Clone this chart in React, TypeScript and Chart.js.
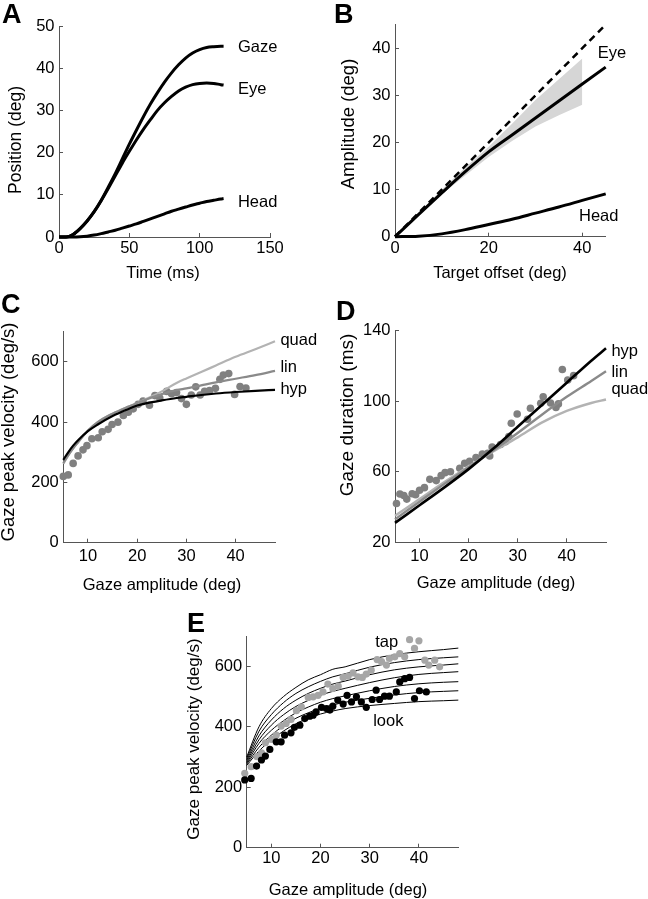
import React, { useEffect, useRef } from "react";
import { Chart, registerables } from "chart.js";
Chart.register(...registerables);

const FONT = '"Liberation Sans", Arial, Helvetica, sans-serif';
const FS = 16.5;

// ---------- Panel A: position vs time ----------
const aTime = [0, 5, 10, 15, 20, 25, 30, 35, 40, 45, 50, 55, 60, 65, 70, 75, 80, 85, 90, 95, 100, 105, 110, 115, 117];
const aGaze = [0, 0, 0.6, 2, 3.8, 6, 8.7, 11.8, 15, 18.5, 22, 25.3, 28.5, 31.5, 34.2, 36.7, 38.9, 40.8, 42.4, 43.6, 44.4, 44.9, 45.1, 45.2, 45.2];
const aEye = [0, 0, 0.6, 2, 3.8, 6, 8.6, 11.5, 14.5, 17.5, 20.3, 23, 25.5, 27.8, 30, 31.8, 33.3, 34.6, 35.5, 36.1, 36.4, 36.5, 36.4, 36.1, 36];
const aHead = [0, 0, 0, 0.05, 0.2, 0.45, 0.8, 1.2, 1.6, 2.1, 2.6, 3.1, 3.7, 4.3, 4.9, 5.5, 6.1, 6.6, 7.1, 7.6, 8, 8.4, 8.7, 9, 9.1];
const aXTicks = [0, 50, 100, 150];
const aYTicks = [0, 10, 20, 30, 40, 50];

// ---------- Panel B: amplitude vs target offset ----------
const bUnityX = [0, 45];
const bUnityY = [0, 45];
const bOffset = [0, 5, 10, 15, 20, 25, 30, 35, 40, 45];
const bEye = [0, 4.7, 9.3, 13.8, 18, 21.6, 25.2, 28.8, 32.4, 36];
const bHead = [0, 0.1, 0.6, 1.5, 2.6, 3.7, 5, 6.3, 7.7, 9.1];
const bBandX = [0, 5, 10, 15, 20, 25, 30, 35, 40];
const bBandHi = [0, 5, 10, 14.7, 19.1, 24, 29, 33.4, 37.8];
const bBandLo = [0, 4.6, 9, 13, 16.9, 20.3, 23.4, 25.8, 28];
const bXTicks = [0, 20, 40];
const bYTicks = [0, 10, 20, 30, 40];

// ---------- Panel C: peak velocity fits ----------
const cX = [5, 6, 7, 8, 10, 12, 15, 18, 20, 22, 25, 28, 30, 33, 36, 40, 44, 48];
const cHyp = [275, 300, 322, 340, 370, 392, 420, 442, 455, 463, 472, 480, 484, 490, 495, 500, 504, 507];
const cLin = [264, 290, 313, 333, 372, 400, 428, 450, 463, 476, 493, 506, 512, 522, 532, 544, 556, 570];
const cQuad = [262, 290, 313, 333, 372, 400, 428, 450, 463, 478, 502, 530, 545, 566, 588, 617, 642, 668];
const cDotX = [5, 6, 7, 8, 9, 9.8, 10.8, 12.1, 12.9, 14.1, 14.9, 16.1, 17.2, 18.2, 19.2, 20.2, 21.2, 22.5, 23.6, 24.6, 26, 27, 28, 29, 30, 31, 31.9, 32.8, 33.7, 34.7, 35.9, 36.8, 37.5, 38.6, 39.8, 40.9, 42.1];
const cDotY = [220, 225, 263, 288, 308, 322, 345, 348, 368, 376, 392, 400, 422, 433, 444, 459, 470, 456, 488, 480, 502, 494, 498, 478, 459, 490, 517, 490, 502, 505, 512, 542, 556, 561, 492, 518, 513];
const cXTicks = [10, 20, 30, 40];
const cYTicks = [0, 200, 400, 600];

// ---------- Panel D: duration fits ----------
const dX = [5, 10, 15, 20, 25, 30, 35, 40, 45, 48];
const dHyp = [31, 41, 51, 61.5, 73, 85.5, 98, 110.5, 123, 130];
const dLin = [33, 43, 53, 62.5, 72, 82, 92.5, 102.5, 111.5, 117];
const dQuad = [35, 44.5, 54, 63, 71.5, 79.5, 88, 94.5, 99, 101];
const dDotX = [5.3, 6, 6.8, 7.4, 8.5, 9.2, 10, 11, 12.1, 13.4, 14.4, 15.2, 16.3, 18.2, 19.2, 20.2, 21.5, 22.8, 23.9, 24.3, 24.8, 26.5, 27.5, 28.2, 28.7, 29.9, 32, 32.6, 34.7, 35.2, 36.7, 37.8, 38.3, 39.1, 40.2, 41.4];
const dDotY = [42, 47.4, 46.5, 44.5, 47.5, 47, 49.5, 51, 55.7, 55, 57.8, 59.5, 60, 62, 64.8, 66, 68, 70, 70.5, 69, 74, 75.5, 77, 80, 87.5, 92.8, 89.8, 96, 98.8, 102.5, 99, 96.5, 98.5, 118, 112, 114.5];
const dXTicks = [10, 20, 30, 40];
const dYTicks = [20, 60, 100, 140];

// ---------- Panel E: tap vs look ----------
const eX = [5, 7.5, 10, 12.5, 15, 17.5, 20, 22.5, 25, 30, 35, 40, 45, 48];
const eL1 = [300, 400, 460, 500, 530, 555, 572, 590, 598, 622, 638, 648, 655, 660];
const eL2 = [295, 385, 440, 480, 510, 532, 550, 565, 575, 597, 612, 622, 628, 631];
const eL3 = [290, 370, 422, 460, 488, 510, 527, 541, 551, 572, 588, 598, 604, 608];
const eL4 = [285, 357, 405, 440, 467, 487, 504, 517, 527, 546, 562, 573, 579, 582];
const eL5 = [280, 345, 388, 420, 446, 465, 481, 493, 502, 519, 533, 542, 547, 549];
const eL6 = [276, 332, 372, 403, 428, 446, 461, 472, 481, 494, 505, 513, 517, 519];
const eL7 = [272, 320, 356, 386, 410, 428, 442, 452, 460, 470, 477, 483, 486, 488];
const eTapX = [4.6, 5.9, 7.1, 8, 8.8, 10, 11, 12, 13, 14, 15.1, 16.1, 17.5, 18.5, 19.5, 20.5, 21.5, 22.5, 23.6, 24.6, 25.6, 26.6, 27.6, 28.5, 29.3, 30.3, 31.5, 32.4, 33.4, 34, 35.1, 36.1, 37.1, 38.1, 39.1, 40, 41.2, 42, 43.2, 44.2];
const eTapY = [246, 268, 301, 314, 347, 358, 372, 402, 411, 424, 453, 466, 497, 499, 504, 515, 541, 526, 534, 563, 567, 578, 565, 563, 574, 587, 622, 615, 604, 626, 631, 642, 631, 688, 659, 684, 620, 604, 620, 598];
const eLookX = [4.6, 5.9, 7, 8, 8.8, 9.7, 11, 12, 12.7, 14, 14.7, 15.8, 16.8, 17.8, 18.5, 19.1, 20.2, 21.2, 21.9, 22.5, 23.5, 24.6, 25.4, 26.3, 27.3, 28.3, 29.3, 30.5, 31.3, 32, 33, 34, 35.4, 36.1, 37.1, 38.1, 39.1, 40.1, 41.5];
const eLookY = [224, 229, 270, 290, 303, 325, 350, 350, 372, 380, 398, 405, 427, 435, 438, 449, 464, 460, 455, 468, 488, 475, 504, 482, 499, 482, 464, 490, 521, 490, 501, 501, 515, 548, 559, 563, 493, 519, 515];
const eXTicks = [10, 20, 30, 40];
const eYTicks = [0, 200, 400, 600];

const pts = (xs: number[], ys: number[]) => xs.map((x, i) => ({ x, y: ys[i] }));

const AXIS = "#555";
const YW = 40;
const XH = 30;

type Box = { cx: number; cy: number; cw: number; ch: number; l: number; t: number; r: number; b: number };

const textPlugin = {
  id: "panelText",
  afterDraw(chart: any, _args: any, o: any) {
    const ctx = chart.ctx as CanvasRenderingContext2D;
    const ox = o.ox, oy = o.oy;
    ctx.save();
    ctx.fillStyle = "#000";
    ctx.font = `bold 27px ${FONT}`;
    ctx.textAlign = "left";
    ctx.textBaseline = "alphabetic";
    ctx.fillText(o.letter, o.letterPos[0] - ox, o.letterPos[1] - oy);
    ctx.font = `${FS}px ${FONT}`;
    ctx.textAlign = "center";
    ctx.textBaseline = "middle";
    ctx.fillText(o.xTitle, o.xTitlePos[0] - ox, o.xTitlePos[1] - oy);
    ctx.save();
    ctx.font = `${o.yTitleSize}px ${FONT}`;
    ctx.translate(o.yTitlePos[0] - ox, o.yTitlePos[1] - oy);
    ctx.rotate(-Math.PI / 2);
    ctx.fillText(o.yTitle, 0, 0);
    ctx.restore();
    ctx.textAlign = "left";
    for (const lb of o.labels) {
      const px = chart.scales.x.getPixelForValue(lb.x);
      const py = chart.scales.y.getPixelForValue(lb.y);
      ctx.fillText(lb.text, px, py);
    }
    ctx.restore();
  },
};

function axisOpts(min: number, max: number, ticks: number[], horizontal: boolean, pad: number) {
  return {
    type: "linear",
    min,
    max,
    afterFit: (s: any) => {
      if (horizontal) s.height = XH;
      else s.width = YW;
    },
    afterBuildTicks: (s: any) => {
      s.ticks = ticks.map((v) => ({ value: v }));
    },
    ticks: { color: "#000", font: { family: FONT, size: FS }, padding: pad, maxRotation: 0, autoSkip: false },
    grid: { display: true, drawOnChartArea: false, drawTicks: true, tickLength: -4, color: AXIS, lineWidth: 1 },
    border: { display: true, color: AXIS, width: 1 },
    title: { display: false },
  };
}

function makeOptions(box: Box, xr: [number, number, number[], number], yr: [number, number, number[]], text: any) {
  return {
    responsive: false,
    maintainAspectRatio: false,
    animation: false,
    events: [],
    layout: {
      padding: {
        left: box.l - box.cx - YW,
        top: box.t - box.cy,
        right: box.cx + box.cw - box.r,
        bottom: box.cy + box.ch - box.b - XH,
      },
    },
    plugins: { legend: { display: false }, tooltip: { enabled: false }, panelText: { ...text, ox: box.cx, oy: box.cy } },
    scales: {
      x: axisOpts(xr[0], xr[1], xr[2], true, xr[3]),
      y: axisOpts(yr[0], yr[1], yr[2], false, 8.5),
    },
  };
}

const lineDs = (data: any[], color: string, width: number, order: number, extra: any = {}) => ({
  data,
  borderColor: color,
  borderWidth: width,
  pointRadius: 0,
  fill: false,
  showLine: true,
  order,
  clip: false,
  cubicInterpolationMode: "monotone",
  ...extra,
});

const dotDs = (data: any[], color: string, r: number, order: number) => ({
  data,
  showLine: false,
  pointRadius: r,
  pointBackgroundColor: color,
  pointBorderWidth: 0,
  borderColor: color,
  order,
  clip: false,
});

const boxA: Box = { cx: 0, cy: 0, cw: 320, ch: 290, l: 59, t: 26, r: 270, b: 237 };
const boxB: Box = { cx: 320, cy: 0, cw: 328, ch: 290, l: 395, t: 24.7, r: 605.7, b: 236.7 };
const boxC: Box = { cx: 0, cy: 290, cw: 320, ch: 310, l: 63.3, t: 331.7, r: 275, b: 542.7 };
const boxD: Box = { cx: 320, cy: 290, cw: 328, ch: 310, l: 395, t: 330.7, r: 606, b: 542.3 };
const boxE: Box = { cx: 180, cy: 600, cw: 330, ch: 299, l: 246.7, t: 636, r: 458.3, b: 847.7 };

function configA() {
  return {
    type: "line",
    data: {
      datasets: [
        lineDs(pts(aTime, aGaze), "#000", 3, 1),
        lineDs(pts(aTime, aEye), "#000", 3, 1),
        lineDs(pts(aTime, aHead), "#000", 3, 1),
      ],
    },
    options: makeOptions(boxA, [0, 150, aXTicks, 5.4], [0, 50, aYTicks], {
      letter: "A", letterPos: [2, 23],
      xTitle: "Time (ms)", xTitlePos: [163, 273],
      yTitle: "Position (deg)", yTitlePos: [16, 140], yTitleSize: 17.5,
      labels: [
        { text: "Gaze", x: 127.2, y: 45 },
        { text: "Eye", x: 127.2, y: 35 },
        { text: "Head", x: 127.2, y: 8.3 },
      ],
    }),
    plugins: [textPlugin],
  };
}

function configB() {
  return {
    type: "line",
    data: {
      datasets: [
        lineDs(pts(bBandX, bBandHi), "rgba(0,0,0,0)", 0, 5, { fill: "+1", backgroundColor: "#d6d6d6", cubicInterpolationMode: "default", tension: 0 }),
        lineDs(pts(bBandX, bBandLo), "rgba(0,0,0,0)", 0, 6, { cubicInterpolationMode: "default", tension: 0 }),
        lineDs(pts(bUnityX, bUnityY), "#000", 2.5, 2, { borderDash: [7, 5], cubicInterpolationMode: "default", tension: 0 }),
        lineDs(pts(bOffset, bEye), "#000", 3, 1),
        lineDs(pts(bOffset, bHead), "#000", 3, 1),
      ],
    },
    options: makeOptions(boxB, [0, 45, bXTicks, 5.7], [0, 45, bYTicks], {
      letter: "B", letterPos: [334, 23.3],
      xTitle: "Target offset (deg)", xTitlePos: [500, 273],
      yTitle: "Amplitude (deg)", yTitlePos: [349, 124], yTitleSize: 18.5,
      labels: [
        { text: "Eye", x: 43.3, y: 39 },
        { text: "Head", x: 39.3, y: 4.2 },
      ],
    }),
    plugins: [textPlugin],
  };
}

function configC() {
  return {
    type: "line",
    data: {
      datasets: [
        dotDs(pts(cDotX, cDotY), "#808080", 3.8, 4),
        lineDs(pts(cX, cQuad), "#b3b3b3", 2.2, 3),
        lineDs(pts(cX, cLin), "#8a8a8a", 2.2, 2),
        lineDs(pts(cX, cHyp), "#000", 2.2, 1),
      ],
    },
    options: makeOptions(boxC, [5, 48, cXTicks, 8.1], [0, 700, cYTicks], {
      letter: "C", letterPos: [1, 313],
      xTitle: "Gaze amplitude (deg)", xTitlePos: [162, 585],
      yTitle: "Gaze peak velocity (deg/s)", yTitlePos: [9, 432], yTitleSize: 18.5,
      labels: [
        { text: "quad", x: 49.1, y: 670 },
        { text: "lin", x: 49.1, y: 581 },
        { text: "hyp", x: 49.1, y: 509 },
      ],
    }),
    plugins: [textPlugin],
  };
}

function configD() {
  return {
    type: "line",
    data: {
      datasets: [
        dotDs(pts(dDotX, dDotY), "#808080", 3.8, 4),
        lineDs(pts(dX, dQuad), "#b3b3b3", 2.4, 3),
        lineDs(pts(dX, dLin), "#8a8a8a", 2.4, 2),
        lineDs(pts(dX, dHyp), "#000", 2.6, 1),
      ],
    },
    options: makeOptions(boxD, [5, 48, dXTicks, 8.5], [20, 140, dYTicks], {
      letter: "D", letterPos: [336, 320],
      xTitle: "Gaze amplitude (deg)", xTitlePos: [496, 583],
      yTitle: "Gaze duration (ms)", yTitlePos: [348, 415], yTitleSize: 19,
      labels: [
        { text: "hyp", x: 49.1, y: 128 },
        { text: "lin", x: 49.1, y: 116.2 },
        { text: "quad", x: 49.1, y: 106.4 },
      ],
    }),
    plugins: [textPlugin],
  };
}

function configE() {
  const fam = [eL1, eL2, eL3, eL4, eL5, eL6, eL7].map((ys) => lineDs(pts(eX, ys), "#000", 1, 5));
  return {
    type: "line",
    data: {
      datasets: [
        ...fam,
        dotDs(pts(eTapX, eTapY), "#a6a6a6", 3.6, 2),
        dotDs(pts(eLookX, eLookY), "#000", 3.6, 1),
      ],
    },
    options: makeOptions(boxE, [5, 48, eXTicks, 4.7], [0, 700, eYTicks], {
      letter: "E", letterPos: [187, 632],
      xTitle: "Gaze amplitude (deg)", xTitlePos: [348, 890],
      yTitle: "Gaze peak velocity (deg/s)", yTitlePos: [194, 739], yTitleSize: 17,
      labels: [
        { text: "tap", x: 31.1, y: 680 },
        { text: "look", x: 30.7, y: 416 },
      ],
    }),
    plugins: [textPlugin],
  };
}

function Panel({ box, make }: { box: Box; make: () => any }) {
  const ref = useRef<HTMLCanvasElement>(null);
  useEffect(() => {
    const chart = new Chart(ref.current as HTMLCanvasElement, make());
    return () => chart.destroy();
  }, []);
  return (
    <canvas
      ref={ref}
      width={box.cw}
      height={box.ch}
      style={{ position: "absolute", left: box.cx, top: box.cy, width: box.cw, height: box.ch }}
    />
  );
}

export default function App() {
  return (
    <div style={{ position: "absolute", left: 0, top: 0, width: 648, height: 899, background: "#fff", overflow: "hidden" }}>
      <Panel box={boxA} make={configA} />
      <Panel box={boxB} make={configB} />
      <Panel box={boxC} make={configC} />
      <Panel box={boxD} make={configD} />
      <Panel box={boxE} make={configE} />
    </div>
  );
}
